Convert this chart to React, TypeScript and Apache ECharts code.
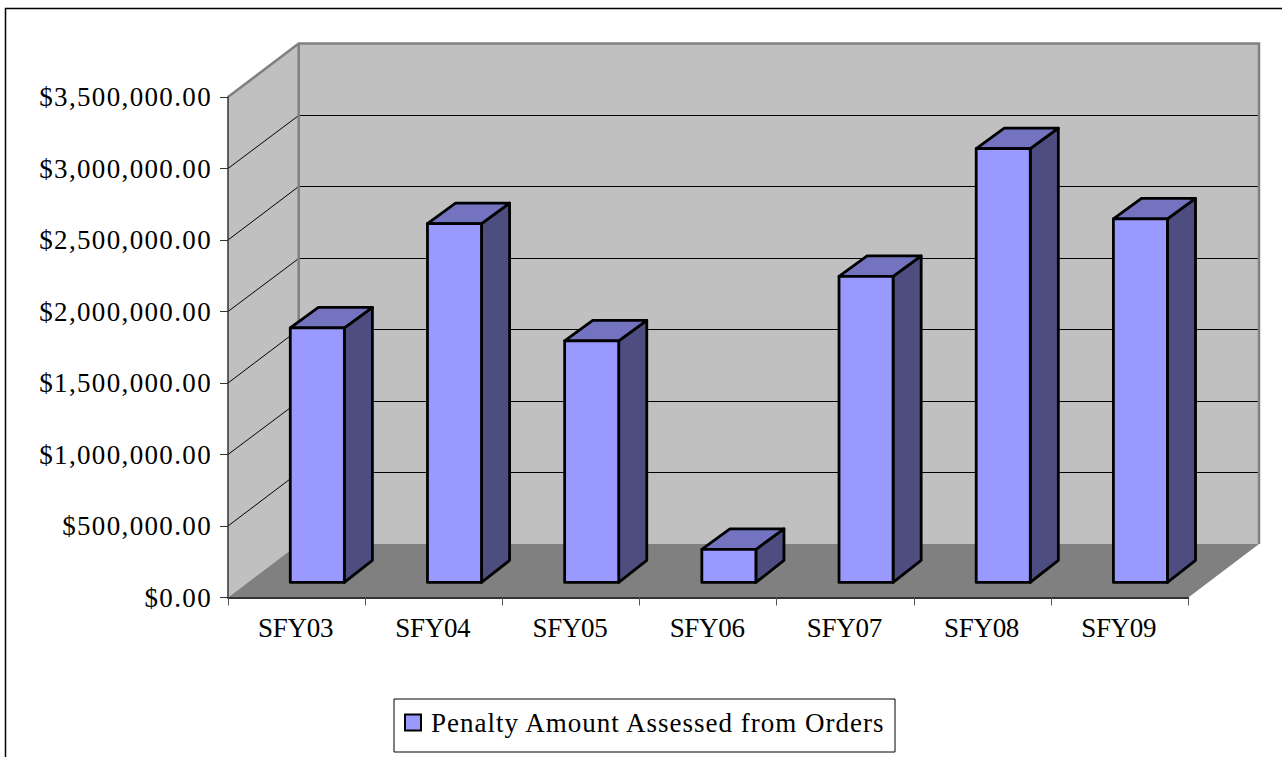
import React, { useEffect, useRef } from "react";
import * as echarts from "echarts";

const categories = ["SFY03", "SFY04", "SFY05", "SFY06", "SFY07", "SFY08", "SFY09"];
const penaltyValues = [1780000, 2510000, 1690000, 232000, 2140000, 3034000, 2542000];
const gridValues = [500000, 1000000, 1500000, 2000000, 2500000, 3000000];
const seriesName = "Penalty Amount Assessed from Orders";

const DX = 70.7, DY = -53.5;
const FONT = "'Liberation Serif', 'Times New Roman', serif";

function pts(list: number[][]) { return { points: list }; }

export default function App() {
  const ref = useRef<HTMLDivElement>(null);
  useEffect(() => {
    document.body.style.margin = "0";
    const chart = echarts.init(ref.current!, null, { renderer: "svg", width: 1282, height: 757 });
    chart.setOption({
      animation: false,
      backgroundColor: "#ffffff",
      grid: { left: 228, top: 97, width: 960.3, height: 500.5, containLabel: false },
      xAxis: {
        type: "category", data: categories, z: 6,
        axisLine: { lineStyle: { color: "#333333", width: 2 } },
        axisTick: { show: true, length: 8, alignWithLabel: false, lineStyle: { color: "#555555", width: 1 } },
        axisLabel: { color: "#000", fontFamily: FONT, fontSize: 27, margin: 17, padding: [0, 2, 0, 0] },
        splitLine: { show: false },
      },
      yAxis: {
        type: "value", min: 0, max: 3500000, interval: 500000, z: 6,
        axisLine: { show: true, lineStyle: { color: "#333333", width: 1.5 } },
        axisTick: { show: true, length: 8, lineStyle: { color: "#333333", width: 1 } },
        axisLabel: {
          color: "#000", fontFamily: FONT, fontSize: 27, margin: 16, padding: [0, 0, 2, 0],
          formatter: (v: number) => "$" + v.toLocaleString("en-US", { minimumFractionDigits: 2, maximumFractionDigits: 2 }),
        },
        splitLine: { show: false },
      },
      legend: {
        show: true, data: [{ name: seriesName, icon: "rect", itemStyle: { color: "#9999FF", borderColor: "#000", borderWidth: 2 } }],
        left: 394, top: 699, orient: "horizontal",
        backgroundColor: "#fff", borderColor: "#000", borderWidth: 1,
        padding: [10, 10, 16, 10], itemWidth: 16, itemHeight: 16, itemGap: 0, selectedMode: false,
        textStyle: { color: "#000", fontFamily: FONT, fontSize: 27, width: 454, height: 20, lineHeight: 20, overflow: "none", padding: [0, 0, 6, 5] },
      },
      graphic: [{
        type: "polyline", silent: true, z: 100,
        shape: { points: [[5.5, 760], [5.5, 8.5], [1290, 8.5]] },
        style: { fill: "none", stroke: "#000", lineWidth: 1.5 },
      }],
      series: [
        {
          type: "custom", name: "walls", coordinateSystem: "cartesian2d", silent: true, z: 1, data: [[0, 0]],
          renderItem: (params: any) => {
            const sys = params.coordSys;
            const l = sys.x, r = sys.x + sys.width, t = sys.y, b = sys.y + sys.height;
            return {
              type: "group",
              children: [
                { type: "polygon", shape: pts([[l + DX, t + DY], [r + DX, t + DY], [r + DX, b + DY], [l + DX, b + DY]]), style: { fill: "#C0C0C0", stroke: "none" } },
                { type: "polygon", shape: pts([[l, t], [l + DX, t + DY], [l + DX, b + DY], [l, b]]), style: { fill: "#C0C0C0", stroke: "none" } },
                { type: "polygon", shape: pts([[l, b], [l + DX, b + DY], [r + DX, b + DY], [r, b]]), style: { fill: "#808080", stroke: "none" } },
              ],
            };
          },
        },
        {
          type: "custom", name: "gridlines", coordinateSystem: "cartesian2d", silent: true, z: 2,
          data: gridValues.map((v) => [0, v]),
          renderItem: (params: any, api: any) => {
            const sys = params.coordSys;
            const y = api.coord([0, api.value(1)])[1];
            const l = sys.x, r = sys.x + sys.width;
            const by = Math.floor(y + DY) + 0.5;
            return {
              type: "polyline",
              shape: pts([[l, y], [l + DX, by], [r + DX, by]]),
              style: { fill: "none", stroke: "#000", lineWidth: 1 },
            };
          },
        },
        {
          type: "custom", name: "frame", coordinateSystem: "cartesian2d", silent: true, z: 3, data: [[0, 0]],
          renderItem: (params: any) => {
            const sys = params.coordSys;
            const l = sys.x, r = sys.x + sys.width, t = sys.y, b = sys.y + sys.height;
            return {
              type: "group",
              children: [
                { type: "polyline", shape: pts([[l, t], [l + DX, t + DY], [r + DX, t + DY], [r + DX, b + DY]]), style: { fill: "none", stroke: "#808080", lineWidth: 2.5 } },
                { type: "polyline", shape: pts([[l + DX, t + DY], [l + DX, b + DY]]), style: { fill: "none", stroke: "#808080", lineWidth: 2.5 } },
              ],
            };
          },
        },
        {
          type: "custom", name: seriesName, coordinateSystem: "cartesian2d", silent: true, z: 4,
          itemStyle: { color: "#9999FF" },
          encode: { x: 0, y: 1 },
          data: penaltyValues.map((v, i) => [i, v]),
          renderItem: (params: any, api: any) => {
            const i = api.value(0);
            const base = api.coord([i, 0]);
            const top = api.coord([i, api.value(1)]);
            const band = api.size([1, 0])[0];
            const w = band * 0.394;
            const fx0 = 0.293, fy0 = 0.281, fx1 = 0.69;
            const x0 = base[0] - w / 2 + DX * fx0;
            const x1 = x0 + w;
            const yb = base[1] + DY * fy0;
            const yt = top[1] + DY * fy0;
            const sx = DX * (fx1 - fx0);
            const syTop = -20.5, syBottom = -22;
            const line = { stroke: "#000", lineWidth: 2.8, lineJoin: "round" };
            return {
              type: "group",
              children: [
                { type: "polygon", shape: pts([[x1, yt], [x1 + sx, yt + syTop], [x1 + sx, yb + syBottom], [x1, yb]]), style: { fill: "#4D4D80", ...line } },
                { type: "polygon", shape: pts([[x0, yt], [x0 + sx, yt + syTop], [x1 + sx, yt + syTop], [x1, yt]]), style: { fill: "#7373BF", ...line } },
                { type: "polygon", shape: pts([[x0, yt], [x1, yt], [x1, yb], [x0, yb]]), style: { fill: "#9999FF", ...line } },
              ],
            };
          },
        },
      ],
    });
    ref.current!.querySelectorAll("text").forEach((t) => {
      const s = t.textContent || "";
      if (s.startsWith("$")) t.style.letterSpacing = "1.35px";
      else if (s.startsWith("Penalty")) t.style.letterSpacing = "1px";
      else if (s.startsWith("SFY")) t.style.letterSpacing = "-0.3px";
    });
    return () => chart.dispose();
  }, []);
  return <div ref={ref} style={{ width: 1282, height: 757 }} />;
}
